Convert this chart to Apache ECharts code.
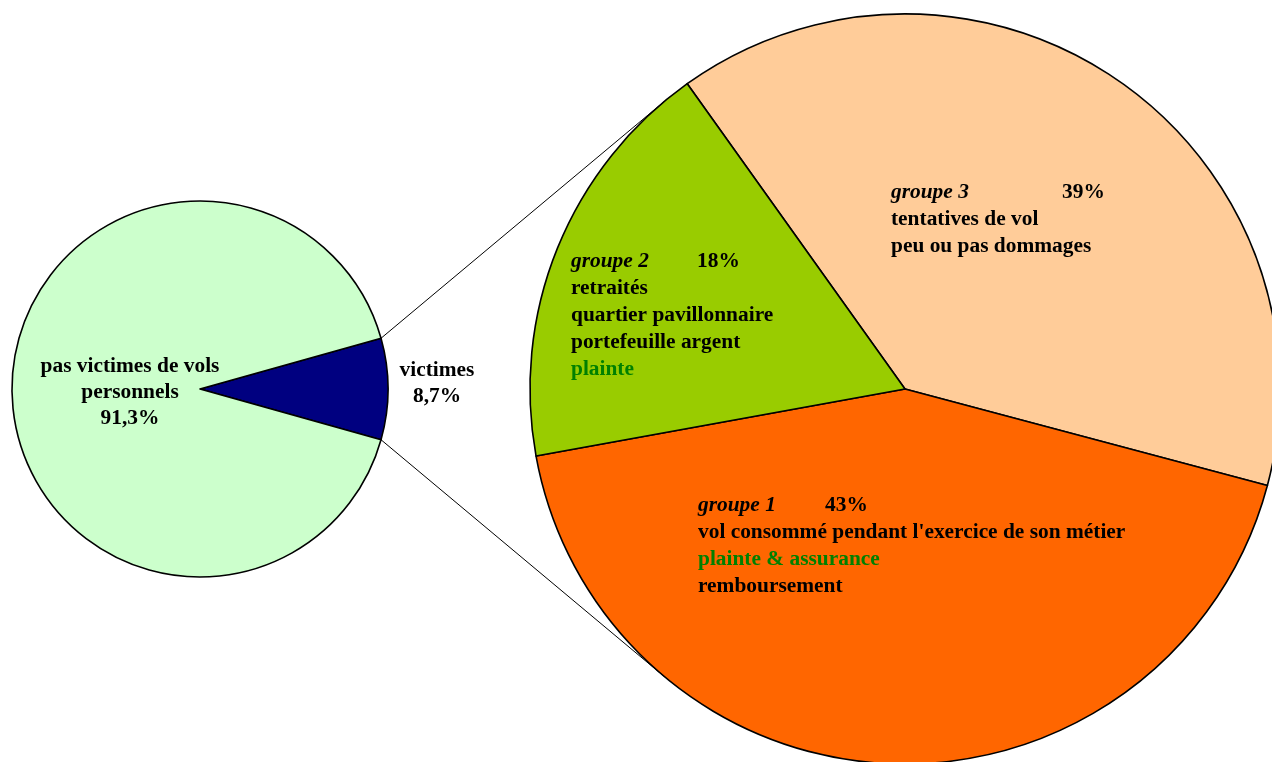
<!DOCTYPE html>
<html>
<head>
<meta charset="utf-8">
<script src="https://cdn.jsdelivr.net/npm/echarts@6/dist/echarts.min.js"></script>
<style>
html,body{margin:0;padding:0;background:#fff;}
#chart{width:1272px;height:762px;}
</style>
</head>
<body>
<div id="chart"></div>
<script>
// ---- data ----
const leftNames = ['victimes', 'pas victimes de vols\npersonnels'];
const leftValues = [8.7, 91.3];
const leftColors = ['#000080', '#CCFFCC'];

const groupNames = ['groupe 3', 'groupe 1', 'groupe 2'];
const groupValues = [39, 43, 18];
const groupColors = ['#FFCC99', '#FF6600', '#99CC00'];
// description lines: [text, highlighted in green]
const groupDescriptions = [
  [['tentatives de vol', false], ['peu ou pas dommages', false]],
  [["vol consommé pendant l'exercice de son métier", false], ['plainte & assurance', true], ['remboursement', false]],
  [['retraités', false], ['quartier pavillonnaire', false], ['portefeuille argent', false], ['plainte', true]]
];

// ---- layout / style ----
const FONT = "'Liberation Serif', 'Times New Roman', serif";
const FS = 21.4;
const leftCenter = [200, 389], leftR = 188;
const rightCenter = [905, 389], rightR = 375;
const rightStart = 125.5;
const leftStart = leftValues[0] / 100 * 360 / 2;
const tabWidths = [171, 127, 126];
const rightLabelPos = [[891, 179], [698, 492], [571, 248]];
const leftLabelPos = [[437, 357], [130, 353]];

function fmtPct(v) { return String(v).replace('.', ',') + '%'; }

const chart = echarts.init(document.getElementById('chart'));

const rich = {
  p: { fontFamily: FONT, fontSize: FS, fontWeight: 'bold', color: '#000', lineHeight: 27 },
  b: { fontFamily: FONT, fontSize: FS, fontWeight: 'bold', color: '#000', lineHeight: 27 },
  gr: { fontFamily: FONT, fontSize: FS, fontWeight: 'bold', color: '#008000', lineHeight: 27 }
};
tabWidths.forEach((w, i) => {
  rich['g' + i] = { fontFamily: FONT, fontSize: FS, fontWeight: 'bold', fontStyle: 'italic', color: '#000', lineHeight: 27, width: w };
});

const rightData = groupNames.map((n, i) => ({
  name: n,
  value: groupValues[i],
  itemStyle: { color: groupColors[i] },
  label: {
    formatter: '{g' + i + '|' + n + '}{p|' + groupValues[i] + '%}\n' +
      groupDescriptions[i].map(d => '{' + (d[1] ? 'gr' : 'b') + '|' + d[0] + '}').join('\n')
  }
}));

const leftData = leftNames.map((n, i) => ({
  name: n,
  value: leftValues[i],
  itemStyle: { color: leftColors[i] }
}));

// connector lines: from small slice edges, tangent to the big pie
function tangentPoint(P, C, r, sign) {
  const dx = P[0] - C[0], dy = P[1] - C[1];
  const d = Math.hypot(dx, dy);
  const a = Math.atan2(dy, dx);
  const b = Math.acos(r / d);
  const t = a + sign * b;
  return [C[0] + r * Math.cos(t), C[1] + r * Math.sin(t)];
}
const th = leftStart * Math.PI / 180;
const pUp = [leftCenter[0] + leftR * Math.cos(th), leftCenter[1] - leftR * Math.sin(th)];
const pDn = [leftCenter[0] + leftR * Math.cos(th), leftCenter[1] + leftR * Math.sin(th)];
const tUp = tangentPoint(pUp, rightCenter, rightR, 1);
const tDn = tangentPoint(pDn, rightCenter, rightR, -1);

chart.setOption({
  backgroundColor: '#fff',
  animation: false,
  graphic: [
    { type: 'line', z: 10, shape: { x1: pUp[0], y1: pUp[1], x2: tUp[0], y2: tUp[1] }, style: { stroke: '#000', lineWidth: 1 } },
    { type: 'line', z: 10, shape: { x1: pDn[0], y1: pDn[1], x2: tDn[0], y2: tDn[1] }, style: { stroke: '#000', lineWidth: 1 } }
  ],
  series: [
    {
      type: 'pie',
      center: leftCenter,
      radius: [0, leftR],
      startAngle: leftStart,
      clockwise: true,
      avoidLabelOverlap: false,
      itemStyle: { borderColor: '#000', borderWidth: 1.6 },
      label: {
        show: true,
        position: 'inside',
        fontFamily: FONT,
        fontSize: FS,
        fontWeight: 'bold',
        color: '#000',
        lineHeight: 26,
        align: 'center',
        formatter: p => p.name + '\n' + fmtPct(p.value)
      },
      labelLine: { show: false },
      labelLayout: p => ({ x: leftLabelPos[p.dataIndex][0], y: leftLabelPos[p.dataIndex][1], align: 'center', verticalAlign: 'top' }),
      emphasis: { disabled: true },
      data: leftData
    },
    {
      type: 'pie',
      center: rightCenter,
      radius: [0, rightR],
      startAngle: rightStart,
      clockwise: true,
      avoidLabelOverlap: false,
      itemStyle: { borderColor: '#000', borderWidth: 1.6 },
      label: {
        show: true,
        position: 'inside',
        align: 'left',
        rich: rich
      },
      labelLine: { show: false },
      labelLayout: p => ({ x: rightLabelPos[p.dataIndex][0], y: rightLabelPos[p.dataIndex][1], align: 'left', verticalAlign: 'top' }),
      emphasis: { disabled: true },
      data: rightData
    }
  ]
});
</script>
</body>
</html>
